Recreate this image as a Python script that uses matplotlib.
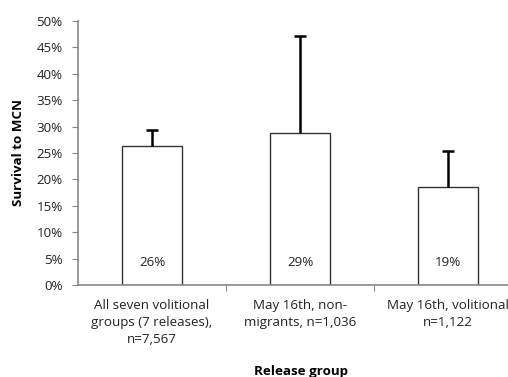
import matplotlib
matplotlib.use("Agg")
import matplotlib.pyplot as plt
from matplotlib.ticker import PercentFormatter, MultipleLocator

categories = ["All seven volitional\ngroups (7 releases),\nn=7,567",
              "May 16th, non-\nmigrants, n=1,036",
              "May 16th, volitional\nn=1,122"]
survival = [26.4, 28.7, 18.6]
err_upper = [3.0, 18.5, 6.8]
value_labels = ["26%", "29%", "19%"]

plt.rcParams['font.family'] = ['Open Sans', 'DejaVu Sans']
FS = 9.6

fig = plt.figure(figsize=(5.08, 3.77), dpi=100)
ax = fig.add_axes([78/508, 1 - 285/377, 444/508, 264/377])

x = list(range(len(categories)))
ax.bar(x, survival, width=0.4, color='white', edgecolor='#333333', linewidth=1.0, zorder=2)
eb = ax.errorbar(x, survival, yerr=[[0]*3, err_upper], fmt='none', ecolor='black',
                 elinewidth=1.8, capsize=4.3, capthick=1.8, zorder=3)
eb[1][0].set_visible(False)

for xi, lab in zip(x, value_labels):
    ax.text(xi, 4.2, lab, ha='center', va='center', fontsize=FS, color='#222222')

ax.set_xlim(-0.5, 2.5)
ax.set_ylim(0, 50)
ax.yaxis.set_major_locator(MultipleLocator(5))
ax.yaxis.set_major_formatter(PercentFormatter(decimals=0))
ax.set_xticks([0.5, 1.5])
ax.set_xticklabels([])
ax.tick_params(axis='x', length=4, color='#888888', direction='out')
ax.tick_params(axis='y', length=4, color='#888888', direction='out', labelsize=FS,
               labelcolor='#222222', pad=7)
for xi, lab in zip(x, categories):
    ax.text(xi, -2.6, lab, ha='center', va='top', fontsize=FS, color='#222222',
            linespacing=1.4, clip_on=False)

for s in ['top', 'right']:
    ax.spines[s].set_visible(False)
for s in ['left', 'bottom']:
    ax.spines[s].set_color('#888888')
    ax.spines[s].set_linewidth(1.2)

ax.set_ylabel("Survival to MCN", fontsize=FS, fontweight='bold', labelpad=8)
fig.text(301/508, 1 - 371/377, "Release group", ha='center', va='center',
         fontsize=FS, fontweight='bold')

fig.savefig("out.png", dpi=100)
